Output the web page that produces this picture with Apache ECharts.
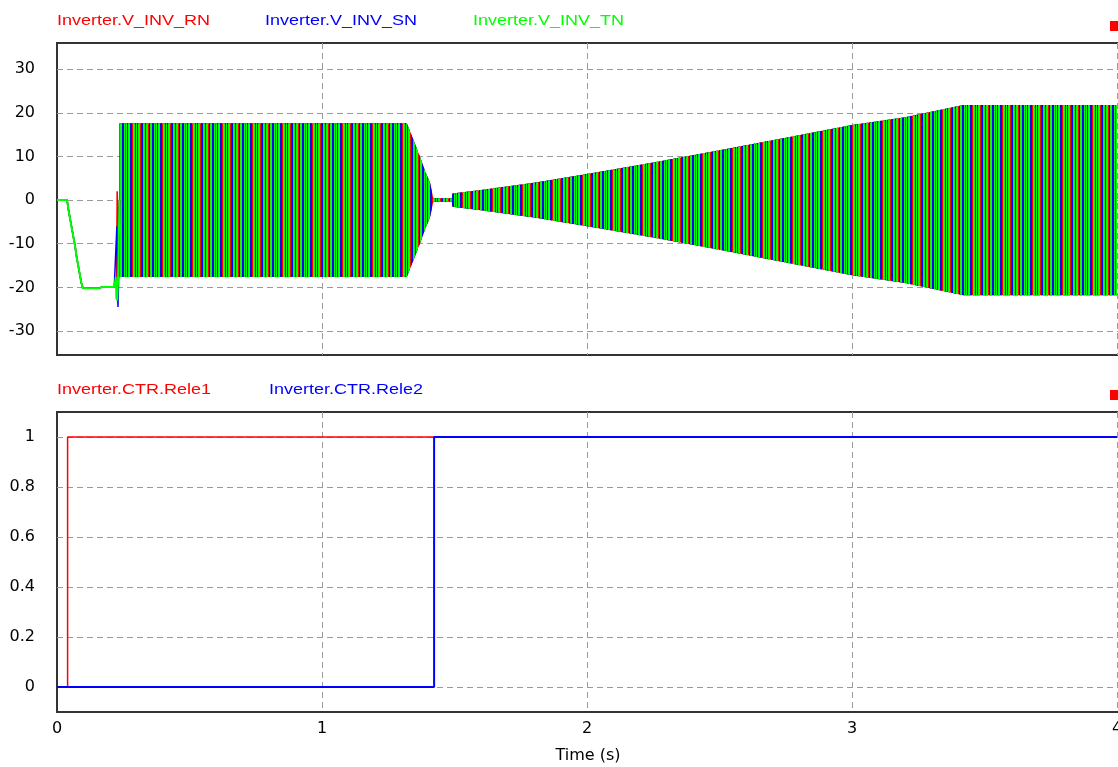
<!DOCTYPE html>
<html><head><meta charset="utf-8">
<script src="https://cdn.jsdelivr.net/npm/echarts@6/dist/echarts.min.js"></script>
<style>html,body{margin:0;padding:0;background:#fff}#c{width:1118px;height:767px}</style>
</head><body><div id="c"></div>
<script>
// ---------- data ----------
const topNames = ['Inverter.V_INV_RN', 'Inverter.V_INV_SN', 'Inverter.V_INV_TN'];
const bottomNames = ['Inverter.CTR.Rele1', 'Inverter.CTR.Rele2'];
const xTickLabels = [0, 1, 2, 3, 4];
const voltTickLabels = [-30, -20, -10, 0, 10, 20, 30];
const releTickLabels = [0, 0.2, 0.4, 0.6, 0.8, 1];

// start-up trace, common to the three phases (time s, volts)
const startTime = [0, 0.038, 0.044, 0.050, 0.056, 0.062, 0.068, 0.074, 0.080, 0.086, 0.092, 0.098, 0.160, 0.170, 0.216, 0.220];
const startVolt = [0, 0, -2.5, -4.5, -6.5, -8.5, -10.5, -13, -15, -17, -19, -20.2, -20.2, -19.9, -19.9, -19.5];
// switching transient at the start of modulation, per phase
const rnTailTime = [0.225, 0.227, 0.232, 0.236];
const rnTailVolt = [-18, 2, -6, 0];
const snTailTime = [0.226, 0.230, 0.233, 0.236];
const snTailVolt = [-6, -24.5, -17, 0];
const tnTailTime = [0.222, 0.224, 0.227, 0.230, 0.236];
const tnTailVolt = [-17.6, -22.5, -23, -19, 0];

// amplitude envelope of the three 50 Hz phase voltages (time s, peak volts)
const envTime = [0.236, 1.320, 1.345, 1.370, 1.390, 1.408, 1.420, 1.490, 1.492, 1.600, 1.800, 2.000, 2.250, 2.500, 2.750, 3.000, 3.200, 3.420, 4.000];
const envAmp  = [17.6, 17.6, 13.8, 9.9, 6.5, 3.9, 0.4, 0.4, 1.5, 2.3, 4.0, 6.0, 8.6, 11.4, 14.3, 17.2, 19.0, 21.8, 21.8];

// relay signals
const rele1Time = [0, 0.040, 0.040, 4.0];
const rele1Val  = [0, 0, 1, 1];
const rele2Time = [0, 1.423, 1.423, 4.0];
const rele2Val  = [0, 0, 1, 1];

// ---------- styling ----------
const RED = '#ff0000', BLUE = '#0000ff', GREEN = '#00ff00';
const stripeLayout = 'GGBBGRGBGGBBRGGBGBGGRBBGGBGGRB';
function stripes(pick) {
  const c = document.createElement('canvas');
  c.width = stripeLayout.length; c.height = 1;
  const g = c.getContext('2d');
  for (let i = 0; i < stripeLayout.length; i++) {
    const col = pick(stripeLayout[i]);
    if (col) { g.fillStyle = col; g.fillRect(i, 0, 1, 1); }
  }
  return { image: c, repeat: 'repeat' };
}
const fillRN = RED;
const fillSN = stripes(ch => ch === 'R' ? null : BLUE);
const fillTN = stripes(ch => ch === 'G' ? GREEN : null);

const pairs = (xs, ys) => xs.map((x, i) => [x, ys[i]]);

function bandRenderer(fill) {
  return function (params, api) {
    if (params.dataIndex !== 0) return;
    const upper = [], lower = [];
    for (let i = 0; i < envTime.length; i++) {
      upper.push(api.coord([envTime[i], envAmp[i]]));
      lower.push(api.coord([envTime[i], -envAmp[i]]));
    }
    return { type: 'polygon', shape: { points: upper.concat(lower.reverse()) }, style: { fill: fill } };
  };
}

const FONT = 'DejaVu Sans';
const gridLine = { show: true, showMinLine: false, showMaxLine: false, lineStyle: { color: '#9a9a9a', type: [6, 4], width: 1 } };
const XMAX = 4.0075;
const isOneOf = (v, list) => list.some(t => Math.abs(t - v) < 1e-7);

function xAxis(grid, labels) {
  return {
    type: 'value', gridIndex: grid, min: 0, max: XMAX, minInterval: 1, maxInterval: 1,
    axisLine: { show: false }, axisTick: { show: false }, splitLine: gridLine,
    axisLabel: { show: labels, margin: 9, color: '#000', fontFamily: FONT, fontSize: 16,
      showMinLabel: true, showMaxLabel: false, hideOverlap: false,
      formatter: v => isOneOf(v, xTickLabels) ? String(Math.round(v)) : '' },
    name: labels ? 'Time (s)' : '', nameLocation: 'middle', nameGap: 36,
    nameTextStyle: { color: '#000', fontFamily: FONT, fontSize: 16 }
  };
}

const lineS = (name, data, color, width, xi) => ({
  type: 'line', name, data, xAxisIndex: xi, yAxisIndex: xi, showSymbol: false, symbol: 'none',
  animation: false, lineStyle: { color, width }, itemStyle: { color }
});
const bandS = (name, fill) => ({
  type: 'custom', name, xAxisIndex: 0, yAxisIndex: 0, animation: false,
  data: pairs(envTime, envAmp), encode: { x: 0, y: 1 }, renderItem: bandRenderer(fill)
});

const gridBase = { left: 57, right: -1, show: true, borderColor: '#333', borderWidth: 2, backgroundColor: 'transparent', containLabel: false, outerBoundsMode: 'none' };
const legendText = (x, y, text, color) => ({
  type: 'text', x, y, scaleX: 1.2,
  style: { text, fill: color, fontFamily: 'Liberation Sans, Arial, sans-serif', fontSize: 15, verticalAlign: 'middle', textVerticalAlign: 'middle' }
});

const option = {
  backgroundColor: '#fff',
  animation: false,
  grid: [
    Object.assign({ top: 43, height: 312 }, gridBase),
    Object.assign({ top: 412, height: 300 }, gridBase)
  ],
  xAxis: [xAxis(0, false), xAxis(1, true)],
  yAxis: [
    { type: 'value', gridIndex: 0, min: -35.5, max: 36, minInterval: 10, maxInterval: 10,
      axisLine: { show: false }, axisTick: { show: false }, splitLine: gridLine,
      axisLabel: { margin: 22, color: '#000', fontFamily: FONT, fontSize: 16, showMinLabel: false, showMaxLabel: false,
        formatter: v => isOneOf(v, voltTickLabels) ? String(Math.round(v)) : '' } },
    { type: 'value', gridIndex: 1, min: -0.1, max: 1.1, minInterval: 0.2, maxInterval: 0.2,
      axisLine: { show: false }, axisTick: { show: false }, splitLine: gridLine,
      axisLabel: { margin: 22, color: '#000', fontFamily: FONT, fontSize: 16, showMinLabel: false, showMaxLabel: false,
        formatter: v => isOneOf(v, releTickLabels) ? String(+v.toFixed(1)) : '' } }
  ],
  series: [
    lineS(topNames[0], pairs(startTime.concat(rnTailTime), startVolt.concat(rnTailVolt)), RED, 1.5, 0),
    bandS(topNames[0], fillRN),
    lineS(topNames[1], pairs(startTime.concat(snTailTime), startVolt.concat(snTailVolt)), BLUE, 1.5, 0),
    bandS(topNames[1], fillSN),
    lineS(topNames[2], pairs(startTime.concat(tnTailTime), startVolt.concat(tnTailVolt)), GREEN, 2, 0),
    bandS(topNames[2], fillTN),
    lineS(bottomNames[0], pairs(rele1Time, rele1Val), RED, 1.5, 1),
    lineS(bottomNames[1], pairs(rele2Time, rele2Val), BLUE, 2, 1)
  ],
  graphic: [
    legendText(57, 21, topNames[0], RED),
    legendText(265, 21, topNames[1], BLUE),
    legendText(473, 21, topNames[2], GREEN),
    legendText(57, 390, bottomNames[0], RED),
    legendText(269, 390, bottomNames[1], BLUE),
    { type: 'rect', shape: { x: 1110, y: 21, width: 10, height: 10 }, style: { fill: RED } },
    { type: 'rect', shape: { x: 1110, y: 390, width: 10, height: 10 }, style: { fill: RED } }
  ]
};
const chart = echarts.init(document.getElementById('c'), null, { renderer: 'canvas' });
chart.setOption(option);
</script></body></html>
